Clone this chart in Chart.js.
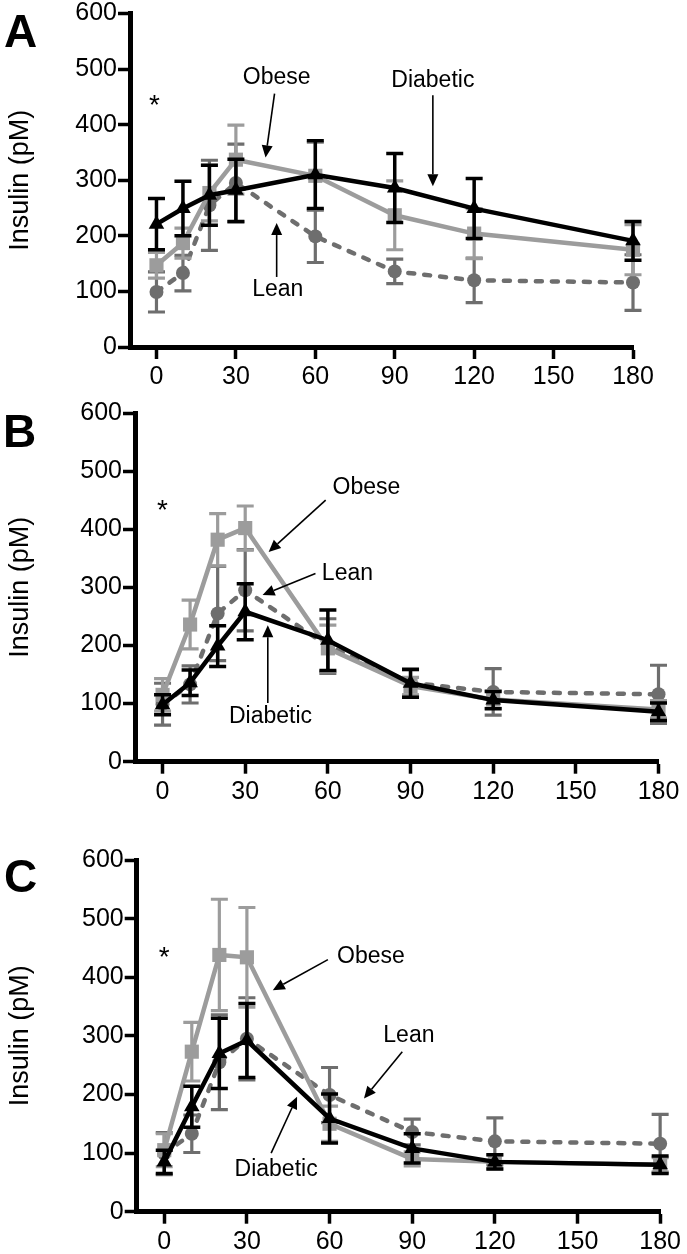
<!DOCTYPE html>
<html><head><meta charset="utf-8">
<script src="https://cdn.jsdelivr.net/npm/chart.js@4/dist/chart.umd.min.js"></script>
<style>
html,body{margin:0;padding:0;background:#fff;width:687px;height:1254px;overflow:hidden}
.p{position:absolute;left:0;width:687px}
canvas{display:block}
</style></head><body>
<div class="p" style="top:0"><canvas id="cA" width="687" height="392"></canvas></div>
<div class="p" style="top:392px"><canvas id="cB" width="687" height="416"></canvas></div>
<div class="p" style="top:808px"><canvas id="cC" width="687" height="446"></canvas></div>
<script>
// ---- data ----
const timePoints = [0, 10, 20, 30, 60, 90, 120, 180];
const xTickValues = [0, 30, 60, 90, 120, 150, 180];
const yTickValues = [0, 100, 200, 300, 400, 500, 600];
const seriesNames = ['Lean', 'Obese', 'Diabetic'];
const yTitle = 'Insulin (pM)';

const leanMean = [99, 133, 255, 295, 199, 136, 120, 116];
const leanErr  = [36, 32, 81, 70, 47, 22, 40, 50];

const obeseA = [147, 187, 277, 337, 308, 237, 204, 175];
const obeseAErr = [23, 27, 50, 62, 60, 62, 45, 45];
const diabeticA = [221, 249, 273, 282, 310, 286, 249, 191];
const diabeticAErr = [46, 49, 54, 56, 61, 62, 54, 35];

const obeseB = [115, 236, 382, 402, 195, 130, 107, 90];
const obeseBErr = [28, 42, 45, 38, 40, 15, 15, 15];
const diabeticB = [98, 136, 199, 258, 209, 135, 106, 86];
const diabeticBErr = [17, 22, 35, 48, 52, 24, 15, 15];

const obeseC = [105, 273, 438, 434, 150, 90, 85, 80];
const obeseCErr = [28, 50, 95, 85, 30, 12, 12, 12];
const diabeticC = [85, 179, 270, 292, 159, 108, 85, 80];
const diabeticCErr = [20, 35, 60, 63, 42, 25, 12, 15];

// ---- styles ----
const FONT = "'Liberation Sans', Arial, Helvetica, sans-serif";
const C_LEAN = '#6e6e6e', C_OBESE = '#9c9c9c', C_DIAB = '#000000';

function pts(vals){ return timePoints.map((t,i)=>({x:t, y:vals[i]})); }

const errorBarPlugin = {
  id: 'errorBars',
  beforeDatasetDraw(chart, args) {
    const ds = chart.data.datasets[args.index];
    if (!ds.errors) return;
    const ys = chart.scales.y, ctx = chart.ctx;
    ctx.save();
    ctx.strokeStyle = ds.borderColor;
    ctx.lineWidth = ds.errWidth || 3;
    ctx.setLineDash([]);
    args.meta.data.forEach((pt, i) => {
      const v = ds.data[i].y, e = ds.errors[i];
      const top = ys.getPixelForValue(v + e), bot = ys.getPixelForValue(v - e);
      const x = pt.x, hw = 8.5;
      ctx.beginPath();
      ctx.moveTo(x, top); ctx.lineTo(x, bot);
      ctx.moveTo(x - hw, top); ctx.lineTo(x + hw, top);
      ctx.moveTo(x - hw, bot); ctx.lineTo(x + hw, bot);
      ctx.stroke();
    });
    ctx.restore();
  }
};

function arrow(ctx, x1, y1, x2, y2) {
  const a = Math.atan2(y2 - y1, x2 - x1), L = 12, W = 5.5;
  const bx = x2 - L * Math.cos(a), by = y2 - L * Math.sin(a);
  ctx.beginPath(); ctx.moveTo(x1, y1); ctx.lineTo(bx, by); ctx.stroke();
  ctx.beginPath();
  ctx.moveTo(x2, y2);
  ctx.lineTo(bx + W * Math.sin(a), by - W * Math.cos(a));
  ctx.lineTo(bx - W * Math.sin(a), by + W * Math.cos(a));
  ctx.closePath(); ctx.fill();
}

const annotPlugin = {
  id: 'annot',
  afterDraw(chart, args, opts) {
    const ctx = chart.ctx, xs = chart.scales.x, ys = chart.scales.y;
    const X = v => xs.getPixelForValue(v), Y = v => ys.getPixelForValue(v);
    ctx.save();
    ctx.fillStyle = '#000'; ctx.strokeStyle = '#000';
    ctx.font = 'bold 46px ' + FONT;
    ctx.textAlign = 'left'; ctx.textBaseline = 'alphabetic';
    ctx.fillText(opts.letter, opts.letterPos[0], opts.letterPos[1]);
    ctx.font = '28px ' + FONT;
    ctx.textAlign = 'center'; ctx.textBaseline = 'middle';
    ctx.fillText('*', X(opts.star[0]), Y(opts.star[1]) + 3);
    ctx.font = '23px ' + FONT;
    ctx.lineWidth = 1.6;
    opts.labels.forEach(l => {
      ctx.fillText(l.text, X(l.at[0]), Y(l.at[1]));
      arrow(ctx, X(l.from[0]), Y(l.from[1]), X(l.to[0]), Y(l.to[1]));
    });
    ctx.restore();
  }
};

function makeChart(id, obese, obeseErr, diab, diabErr, geom, annot) {
  const ticksFont = { family: FONT, size: 25, lineHeight: 1 };
  const gridOpts = { display: true, drawOnChartArea: false, drawTicks: true, tickLength: 12, tickWidth: 3.5, tickColor: '#000', color: '#000' };
  new Chart(document.getElementById(id), {
    type: 'line',
    data: {
      datasets: [
        { label: seriesNames[2], data: pts(diab), errors: diabErr, order: 0, errWidth: 3.5,
          borderColor: C_DIAB, backgroundColor: C_DIAB, borderWidth: 4.5,
          pointStyle: 'triangle', pointRadius: 9, pointBorderWidth: 0, clip: false },
        { label: seriesNames[1], data: pts(obese), errors: obeseErr, order: 1, errWidth: 3.2,
          borderColor: C_OBESE, backgroundColor: C_OBESE, borderWidth: 4.5,
          pointStyle: 'rect', pointRadius: 10, pointBorderWidth: 0, clip: false },
        { label: seriesNames[0], data: pts(leanMean), errors: leanErr, order: 2, errWidth: 3.2,
          borderColor: C_LEAN, backgroundColor: C_LEAN, borderWidth: 4.5,
          borderDash: [6, 10], borderCapStyle: 'round',
          pointStyle: 'circle', pointRadius: 7, pointBorderWidth: 0, clip: false }
      ]
    },
    options: {
      responsive: false, animation: false, devicePixelRatio: 1,
      layout: { padding: { top: geom.top, right: geom.right, bottom: 0, left: 0 } },
      plugins: { legend: { display: false }, tooltip: { enabled: false }, annot: annot },
      elements: { line: { tension: 0 } },
      scales: {
        x: {
          type: 'linear', min: -10, max: 180,
          afterBuildTicks: s => { s.ticks = xTickValues.map(v => ({ value: v })); },
          afterFit: s => { s.height = geom.xh; },
          border: { display: true, color: '#000', width: 5 },
          grid: gridOpts,
          ticks: { color: '#000', font: ticksFont, padding: 6, maxRotation: 0, autoSkip: false }
        },
        y: {
          min: 0, max: 600,
          afterBuildTicks: s => { s.ticks = yTickValues.map(v => ({ value: v })); },
          afterFit: s => { s.width = geom.left; },
          border: { display: true, color: '#000', width: 5 },
          grid: gridOpts,
          ticks: { color: '#000', font: ticksFont, padding: 1 },
          title: { display: true, text: yTitle, color: '#000', font: { family: FONT, size: 27 }, padding: { top: 4, bottom: 0 } }
        }
      }
    },
    plugins: [errorBarPlugin, annotPlugin]
  });
}

makeChart('cA', obeseA, obeseAErr, diabeticA, diabeticAErr,
  { left: 130, right: 54, top: 13, xh: 45 },
  { letter: 'A', letterPos: [4, 47], star: [-0.8, 438],
    labels: [
      { text: 'Obese', at: [45.4, 485], from: [44.6, 456], to: [41.2, 341] },
      { text: 'Lean', at: [45.8, 104], from: [45.4, 126], to: [45.4, 223] },
      { text: 'Diabetic', at: [104.4, 480], from: [104.4, 453], to: [104.4, 289] }
    ] });

makeChart('cB', obeseB, obeseBErr, diabeticB, diabeticBErr,
  { left: 135, right: 28.5, top: 21, xh: 46.3 },
  { letter: 'B', letterPos: [3, 55], star: [0, 436],
    labels: [
      { text: 'Obese', at: [74, 471], from: [59.2, 450], to: [38.5, 361] },
      { text: 'Lean', at: [67.1, 324], from: [55.5, 324], to: [36.3, 287] },
      { text: 'Diabetic', at: [39.2, 77], from: [38.2, 101], to: [38.2, 235] }
    ] });

makeChart('cC', obeseC, obeseCErr, diabeticC, diabeticCErr,
  { left: 136.7, right: 25.3, top: 52, xh: 42.3 },
  { letter: 'C', letterPos: [4, 84], star: [0, 438],
    labels: [
      { text: 'Obese', at: [75, 435], from: [59.4, 430], to: [39.4, 378] },
      { text: 'Lean', at: [88.8, 301], from: [86.4, 273], to: [72.5, 193] },
      { text: 'Diabetic', at: [40.6, 71], from: [38.8, 100], to: [48.2, 196] }
    ] });
</script>
</body></html>
